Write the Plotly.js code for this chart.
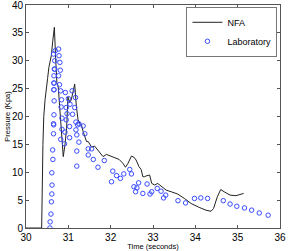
<!DOCTYPE html>
<html>
<head>
<meta charset="utf-8">
<script src="https://cdn.plot.ly/plotly-3.0.1.min.js"></script>
<style>html,body{margin:0;padding:0;background:#fff;}#chart{width:289px;height:251px;}</style>
</head>
<body>
<div id="chart"></div>
<script>
const nfaTime = [30.0, 30.37, 30.40, 30.42, 30.45, 30.48, 30.51, 30.54, 30.57, 30.60, 30.63, 30.67, 30.70, 30.73, 30.76, 30.80, 30.84, 30.88, 30.92, 30.96, 30.99, 31.03, 31.07, 31.11, 31.15, 31.19, 31.23, 31.27, 31.31, 31.35, 31.39, 31.43, 31.47, 31.55, 31.62, 31.70, 31.82, 31.90, 32.02, 32.13, 32.20, 32.29, 32.35, 32.41, 32.49, 32.55, 32.60, 32.67, 32.72, 32.76, 32.80, 32.86, 32.92, 32.97, 33.04, 33.11, 33.19, 33.31, 33.43, 33.58, 33.74, 33.90, 34.09, 34.25, 34.37, 34.43, 34.52, 34.60, 34.68, 34.82, 34.96, 35.14];
const nfaPressure = [0, 0, 15, 20, 23, 25.5, 26.8, 28.8, 30.2, 31.0, 33.4, 36.0, 30.5, 26.0, 25.5, 21.2, 17.9, 12.8, 14.9, 17.9, 23.5, 22.5, 23.0, 24.2, 25.8, 21.8, 19.4, 18.8, 18.5, 17.3, 16.5, 15.5, 15.5, 14.5, 14.7, 14.0, 12.8, 13.2, 12.8, 12.4, 12.3, 11.6, 10.9, 11.6, 12.9, 12.7, 12.2, 11.0, 10.5, 9.2, 9.2, 9.4, 9.5, 8.0, 7.7, 8.0, 7.5, 6.8, 6.5, 6.1, 5.3, 4.4, 3.7, 3.2, 3.0, 3.5, 5.6, 6.9, 6.5, 5.9, 5.8, 6.2];

const labTime = [30.565, 30.57, 30.59, 30.60, 30.61, 30.615, 30.61, 30.635, 30.63, 30.65, 30.655, 30.65, 30.66, 30.665, 30.66, 30.66, 30.66, 30.67, 30.68, 30.77, 30.69, 30.78, 30.65, 30.80, 30.68, 30.81, 30.77, 30.66, 30.79, 30.66, 30.82, 30.93, 31.00, 30.84, 31.09, 31.17, 31.04, 30.95, 30.83, 31.15, 30.97, 31.10, 30.85, 31.18, 31.25, 30.95, 30.85, 30.92, 31.03, 30.82, 30.91, 31.03, 31.18, 31.20, 31.25, 31.20, 31.20, 31.39, 31.22, 31.35, 31.47, 31.55, 31.47, 31.59, 31.85, 31.70, 32.05, 32.14, 32.23, 32.31, 32.02, 32.45, 32.49, 32.55, 32.66, 32.62, 32.59, 32.76, 32.86, 32.93, 32.97, 33.10, 33.19, 33.25, 33.30, 33.59, 33.77, 33.98, 34.13, 34.29, 34.66, 34.82, 34.98, 35.16, 35.33, 35.51, 35.72];
const labPressure = [0, 1.1, 2.5, 4.7, 6.1, 7.7, 9.9, 12.3, 14.0, 16.9, 18.5, 18.7, 20.3, 22.8, 24.8, 26.0, 27.3, 28.5, 30.0, 32.1, 31.8, 30.9, 31.2, 29.7, 28.5, 28.3, 27.3, 26.0, 25.7, 24.8, 24.6, 24.3, 23.2, 23.0, 24.6, 23.4, 22.2, 21.6, 21.7, 21.6, 20.5, 20.4, 19.7, 19.0, 18.7, 19.4, 17.7, 17.2, 18.2, 15.9, 15.1, 16.2, 17.6, 16.7, 15.4, 13.8, 11.1, 16.9, 18.5, 18.3, 14.2, 14.2, 13.1, 12.3, 12.1, 10.9, 10.2, 9.4, 8.9, 9.7, 8.3, 10.5, 9.7, 7.4, 8.1, 7.2, 6.5, 6.2, 7.9, 6.1, 6.5, 7.1, 6.6, 5.4, 5.9, 4.9, 4.5, 5.3, 5.4, 5.3, 4.9, 4.3, 3.9, 3.6, 3.2, 2.7, 2.3];

const xTicks = [30, 31, 32, 33, 34, 35, 36];
const yTicks = [0, 5, 10, 15, 20, 25, 30, 35, 40];

const FONT = 'Liberation Sans, Arial, sans-serif';

const traces = [
  {x: nfaTime, y: nfaPressure, name: 'NFA', type: 'scatter', mode: 'lines',
   line: {color: '#222222', width: 1}},
  {x: labTime, y: labPressure, name: 'Laboratory', type: 'scatter', mode: 'markers',
   marker: {symbol: 'circle-open', size: 4.5, color: '#3a4cff', line: {width: 1, color: '#3a4cff'}}}
];

const axisCommon = {
  showgrid: false, zeroline: false, showline: true, linecolor: '#555', linewidth: 1,
  mirror: 'ticks', ticks: 'inside', ticklen: 3, tickcolor: '#555',
  ticklabeloverflow: 'allow',
  tickfont: {family: FONT, size: 10, color: '#000'}
};

const layout = {
  width: 289, height: 251,
  margin: {l: 26, r: 9, t: 5, b: 23},
  paper_bgcolor: '#fff', plot_bgcolor: '#fff',
  showlegend: true,
  legend: {x: 0.99, y: 0.992, xanchor: 'right', yanchor: 'top',
    bgcolor: '#fff', bordercolor: '#777', borderwidth: 1,
    font: {family: FONT, size: 9, color: '#000'},
    itemwidth: 30, tracegroupgap: 0},
  xaxis: Object.assign({}, axisCommon, {range: [30, 36], tickvals: xTicks, ticktext: xTicks.map(String),
    ticklabelstandoff: 0,
    title: {text: 'Time (seconds)', standoff: 2, font: {family: FONT, size: 7.5, color: '#000'}}}),
  yaxis: Object.assign({}, axisCommon, {range: [0, 40], tickvals: yTicks, ticktext: yTicks.map(String),
    title: {text: 'Pressure (Kpa)', standoff: 0, font: {family: FONT, size: 7.5, color: '#000'}}})
};

Plotly.newPlot('chart', traces, layout, {displayModeBar: false, staticPlot: true});
</script>
</body>
</html>
